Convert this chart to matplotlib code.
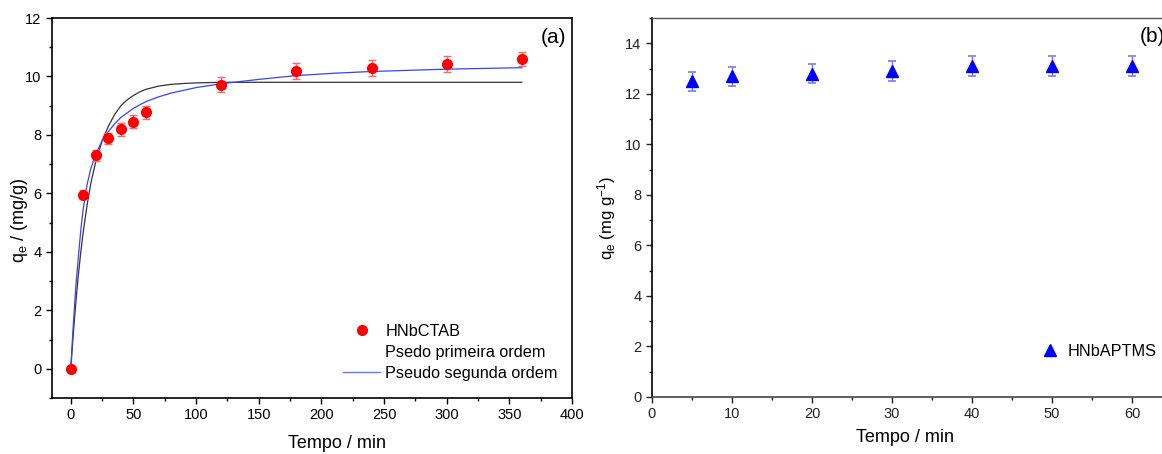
import matplotlib
matplotlib.use("Agg")
import matplotlib.pyplot as plt
from matplotlib.ticker import MultipleLocator
from matplotlib.lines import Line2D

plt.rcParams['font.family'] = ['Liberation Sans', 'DejaVu Sans']
plt.rcParams['mathtext.fontset'] = 'custom'
plt.rcParams['mathtext.rm'] = 'Liberation Sans'
plt.rcParams['mathtext.it'] = 'Liberation Sans'

# ---- Panel (a) data ----
t_a = [0, 10, 20, 30, 40, 50, 60, 120, 180, 240, 300, 360]
q_a = [0, 5.95, 7.3, 7.88, 8.2, 8.45, 8.78, 9.72, 10.18, 10.3, 10.43, 10.6]
err_a = [0.1, 0.15, 0.2, 0.2, 0.22, 0.22, 0.22, 0.25, 0.27, 0.27, 0.27, 0.25]

# fitted curves
t_fit1 = [0, 2, 4, 6, 8, 10, 13, 16, 20, 25, 30, 35, 40, 45, 50, 55, 60, 70, 80, 90, 100, 120, 150, 200, 360]
q_fit1 = [0, 1.2, 2.25, 3.2, 4.0, 4.7, 5.6, 6.35, 7.1, 7.8, 8.3, 8.7, 9.0, 9.2, 9.35, 9.47, 9.56, 9.67, 9.73, 9.76, 9.78, 9.8, 9.8, 9.8, 9.8]
t_fit2 = [0, 1, 2, 4, 6, 8, 10, 13, 16, 20, 25, 30, 35, 40, 50, 60, 70, 80, 100, 120, 150, 180, 210, 240, 300, 360]
q_fit2 = [0, 0.8, 1.5, 2.8, 3.8, 4.75, 5.5, 6.3, 6.85, 7.35, 7.8, 8.12, 8.38, 8.6, 8.91, 9.14, 9.3, 9.43, 9.62, 9.75, 9.9, 10.03, 10.11, 10.17, 10.25, 10.3]

# ---- Panel (b) data ----
t_b = [5, 10, 20, 30, 40, 50, 60]
q_b = [12.5, 12.7, 12.8, 12.9, 13.1, 13.1, 13.1]
err_b = [0.37, 0.38, 0.38, 0.38, 0.4, 0.4, 0.4]

W, H = 1162, 454
fig = plt.figure(figsize=(W / 100, H / 100), dpi=100)

# ---------- (a) ----------
ax1 = fig.add_axes([52 / W, 1 - 398 / H, 520 / W, 380 / H])
ax1.plot(t_fit1, q_fit1, color='#333333', lw=0.9, zorder=2)
ax1.plot(t_fit2, q_fit2, color='#3344ff', lw=0.9, zorder=3)
ax1.errorbar(t_a, q_a, yerr=err_a, fmt='none', ecolor='#ff6666', elinewidth=1.0,
             capsize=3, capthick=1.0, zorder=4)
ax1.plot(t_a, q_a, 'o', color='#ff0000', ms=7, zorder=5)
ax1.set_xlim(-15, 400)
ax1.set_ylim(-1, 12)
ax1.xaxis.set_major_locator(MultipleLocator(50))
ax1.xaxis.set_minor_locator(MultipleLocator(25))
ax1.yaxis.set_major_locator(MultipleLocator(2))
ax1.yaxis.set_minor_locator(MultipleLocator(1))
ax1.tick_params(which='both', direction='out', labelsize=10.5, top=False, right=False)
ax1.tick_params(which='major', length=4, width=1)
ax1.tick_params(which='minor', length=2.5, width=1)
for s in ax1.spines.values():
    s.set_linewidth(1.2)
ax1.set_xlabel('Tempo / min', fontsize=13)
ax1.xaxis.set_label_coords((337 - 52) / 520, (398 - 435) / 380)
ax1.set_ylabel('q$_e$ / (mg/g)', fontsize=13)
ax1.yaxis.set_label_coords((30 - 52) / 520, (398 - 220) / 380)
ax1.text(566 / W, 1 - 28 / H, '(a)', transform=fig.transFigure, ha='right', va='top', fontsize=15)
handles = [
    Line2D([], [], marker='o', color='#ff0000', ls='none', ms=7),
    Line2D([], [], ls='none'),
    Line2D([], [], color='#6677ff', lw=1.0),
]
ax1.legend(handles, ['HNbCTAB', 'Psedo primeira ordem', 'Pseudo segunda ordem'],
           loc='upper left', bbox_to_anchor=(343 / W, 1 - 324 / H), bbox_transform=fig.transFigure,
           frameon=False, fontsize=11.7, borderpad=0, borderaxespad=0,
           handlelength=2.3, handletextpad=0.3, labelspacing=0.36)

# ---------- (b) ----------
ax2 = fig.add_axes([652 / W, 1 - 397 / H, 520 / W, 379 / H])
ax2.errorbar(t_b, q_b, yerr=err_b, fmt='none', ecolor='#7777ff', elinewidth=1.0,
             capsize=3, capthick=1.2, zorder=3)
ax2.plot(t_b, q_b, '^', color='#0000ff', ms=8, zorder=4, label='HNbAPTMS')
ax2.set_xlim(0, 65)
ax2.set_ylim(0, 15)
ax2.xaxis.set_major_locator(MultipleLocator(10))
ax2.xaxis.set_minor_locator(MultipleLocator(5))
ax2.yaxis.set_major_locator(MultipleLocator(2))
ax2.yaxis.set_minor_locator(MultipleLocator(1))
ax2.tick_params(which='both', direction='out', labelsize=10.5, top=False, right=False,
                colors='#222222')
ax2.tick_params(which='major', length=4, width=1)
ax2.tick_params(which='minor', length=2.5, width=1)
ax2.spines['left'].set_linewidth(1.2)
ax2.spines['bottom'].set_linewidth(1.2)
ax2.spines['bottom'].set_color('#444444')
ax2.spines['top'].set_color('#555555')
ax2.spines['top'].set_linewidth(1.0)
ax2.set_xlabel('Tempo / min', fontsize=13)
ax2.xaxis.set_label_coords((905 - 652) / 520, (397 - 429) / 379)
ax2.set_ylabel('q$_e$ (mg g$^{-1}$)', fontsize=12)
ax2.yaxis.set_label_coords((618 - 652) / 520, (397 - 218) / 379)
ax2.text(1140 / W, 1 - 27 / H, '(b)', transform=fig.transFigure, ha='left', va='top', fontsize=15)
ax2.legend(loc='upper left', bbox_to_anchor=(1042 / W, 1 - 344 / H), bbox_transform=fig.transFigure,
           frameon=False, fontsize=11.7, borderpad=0, borderaxespad=0,
           handlelength=1.0, handletextpad=0.6)

fig.savefig('out.png', dpi=100)
